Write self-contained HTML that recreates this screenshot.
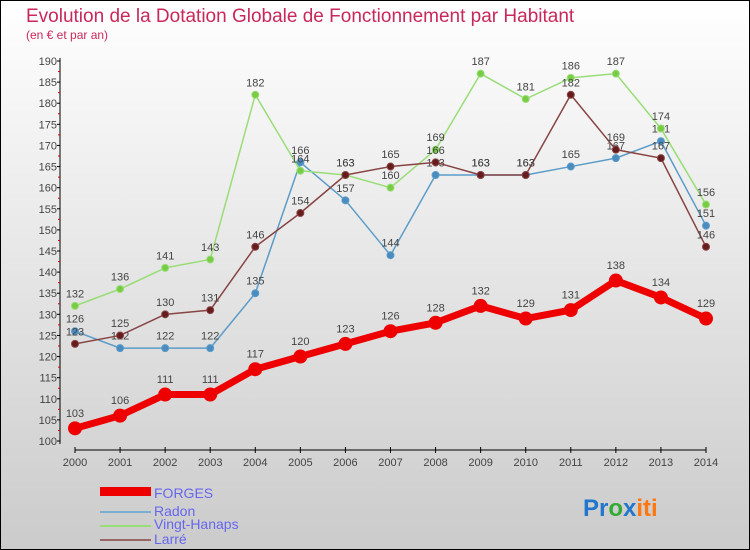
<!DOCTYPE html>
<html><head><meta charset="utf-8"><style>
body{margin:0;width:750px;height:550px;overflow:hidden}
svg{display:block;font-family:"Liberation Sans",sans-serif}
</style></head><body>
<svg width="750" height="550">
<defs><linearGradient id="bg" x1="0" y1="0" x2="0" y2="1"><stop offset="0" stop-color="#ffffff"/><stop offset="1" stop-color="#cbcbcb"/></linearGradient></defs>
<rect x="0.5" y="0.5" width="749" height="549" fill="url(#bg)" stroke="#000"/>
<text x="26" y="22" font-size="19" fill="#c8285a">Evolution de la Dotation Globale de Fonctionnement par Habitant</text>
<text x="26" y="39" font-size="12" fill="#c8285a">(en € et par an)</text>
<g id="axes"></g><g id="series"></g>
<g>
<rect x="100" y="487" width="51" height="9" fill="#ee0000"/>
<text x="154" y="498" font-size="14" fill="#6666ee">FORGES</text>
<line x1="100" y1="512" x2="151" y2="512" stroke="#7aaed0" stroke-width="2"/>
<text x="154" y="516" font-size="14" fill="#6666ee">Radon</text>
<line x1="100" y1="526" x2="151" y2="526" stroke="#99dd77" stroke-width="2"/>
<text x="154" y="529" font-size="14" fill="#6666ee">Vingt-Hanaps</text>
<line x1="100" y1="540" x2="151" y2="540" stroke="#996666" stroke-width="2"/>
<text x="154" y="544" font-size="14" fill="#6666ee">Larré</text>
</g>
<text x="583" y="516" font-size="24" font-weight="bold"><tspan fill="#2277cc">Pr</tspan><tspan fill="#33aa33">o</tspan><tspan fill="#2277cc">x</tspan><tspan fill="#ff7711">iti</tspan></text>
</svg>
<script>
const years=[2000,2001,2002,2003,2004,2005,2006,2007,2008,2009,2010,2011,2012,2013,2014];
const forges=[103,106,111,111,117,120,123,126,128,132,129,131,138,134,129];
const radon=[126,122,122,122,135,166,157,144,163,163,163,165,167,171,151];
const vingt=[132,136,141,143,182,164,163,160,169,187,181,186,187,174,156];
const larre=[123,125,130,131,146,154,163,165,166,163,163,182,169,167,146];
const yTicks=[100,105,110,115,120,125,130,135,140,145,150,155,160,165,170,175,180,185,190];
const NS="http://www.w3.org/2000/svg";
const X=i=>75+i*(706-75)/(years.length-1);
const Y=v=>441-(v-100)*(441-61)/90;
function mk(t,a,p){const e=document.createElementNS(NS,t);for(const k in a)e.setAttribute(k,a[k]);p.appendChild(e);return e;}
const ax=document.getElementById('axes');
let yl=mk('line',{x1:60,y1:58,x2:60,y2:444,stroke:'#000'},ax);


let xl=mk('line',{x1:75,y1:450,x2:706,y2:450,stroke:'#000'},ax);


yTicks.forEach(v=>{
  mk('line',{x1:57,y1:Y(v),x2:60,y2:Y(v),stroke:'#000'},ax);
  if(v<190)mk('line',{x1:58,y1:Y(v+2.5),x2:60,y2:Y(v+2.5),stroke:'#d00'},ax);
  const t=mk('text',{x:57,y:Y(v)+4,'font-size':11,fill:'#444','text-anchor':'end'},ax);t.textContent=v;
  
  
});
years.forEach((yr,i)=>{
  mk('line',{x1:X(i),y1:447,x2:X(i),y2:453,stroke:'#000'},ax);
  const t=mk('text',{x:X(i),y:466,'font-size':11,fill:'#444','text-anchor':'middle'},ax);t.textContent=yr;
  
  
});
const sg=document.getElementById('series');
function draw(vals,color,dot,lw,r,name,fs){
  const g=mk('g',{},sg);
  
  
  mk('polyline',{points:vals.map((v,i)=>X(i)+','+Y(v)).join(' '),fill:'none',stroke:color,'stroke-width':lw,'stroke-linejoin':'round'},g);
  vals.forEach((v,i)=>{
    const c=mk('circle',{cx:X(i),cy:Y(v),r:r,fill:dot,stroke:color,'stroke-width':1},g);
    
    
    const t=mk('text',{x:X(i),y:Y(v)-(r+5),'font-size':fs,fill:'#444','text-anchor':'middle'},g);t.textContent=v;
    
    
  });
}
draw(radon,'#5b9cc8','#4a8cc0',1.5,3.5,'series-radon',11);
draw(vingt,'#99dd77','#77cc44',1.5,3.5,'series-vingt-hanaps',11);
draw(larre,'#884444','#661c1c',1.5,3.5,'series-larre',11);
draw(forges,'#ee0000','#ee0000',7,6.5,'series-forges',11);
</script>
</body></html>
